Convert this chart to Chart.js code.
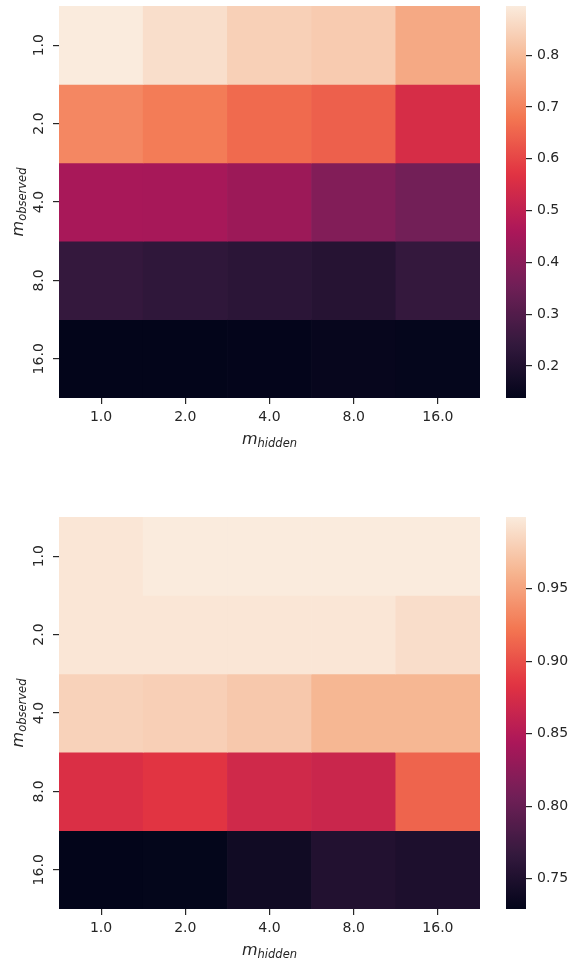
<!DOCTYPE html>
<html>
<head>
<meta charset="utf-8">
<script src="https://cdn.jsdelivr.net/npm/chart.js@4.4.0/dist/chart.umd.min.js"></script>
<style>
  html, body { margin: 0; padding: 0; background: #fff; }
  #wrap { position: relative; width: 577px; height: 959px; overflow: hidden; }
  .box { position: absolute; }
  canvas { display: block; }
</style>
</head>
<body>
<div id="wrap">
  <div class="box" style="left:0;top:0"><canvas id="heatTop" width="480" height="460"></canvas></div>
  <div class="box" style="left:490px;top:0"><canvas id="barTop" width="87" height="460"></canvas></div>
  <div class="box" style="left:0;top:511px"><canvas id="heatBottom" width="480" height="448"></canvas></div>
  <div class="box" style="left:490px;top:511px"><canvas id="barBottom" width="87" height="448"></canvas></div>
</div>
<script>
// axis categories
const mHidden = ['1.0', '2.0', '4.0', '8.0', '16.0'];
const mObserved = ['1.0', '2.0', '4.0', '8.0', '16.0'];

// upper panel, one array per m_observed row (columns follow mHidden)
const upperObs1  = [0.895, 0.870, 0.842, 0.832, 0.767];
const upperObs2  = [0.708, 0.689, 0.659, 0.643, 0.547];
const upperObs4  = [0.454, 0.452, 0.432, 0.387, 0.358];
const upperObs8  = [0.243, 0.233, 0.224, 0.214, 0.243];
const upperObs16 = [0.138, 0.139, 0.140, 0.146, 0.143];
const upperTicks = [0.2, 0.3, 0.4, 0.5, 0.6, 0.7, 0.8];

// lower panel
const lowerObs1  = [0.996, 0.9995, 0.9995, 0.9995, 0.9995];
const lowerObs2  = [0.996, 0.996, 0.996, 0.996, 0.990];
const lowerObs4  = [0.982, 0.980, 0.975, 0.963, 0.963];
const lowerObs8  = [0.878, 0.884, 0.870, 0.866, 0.912];
const lowerObs16 = [0.729, 0.730, 0.740, 0.753, 0.749];
const lowerTicks = [0.75, 0.80, 0.85, 0.90, 0.95];

// seaborn "rocket" anchors
const rocketStops = ['#03051a', '#35193e', '#701f57', '#ad1759', '#e13342', '#f37651', '#f6b48f', '#faebdd'];

const textColor = '#262626';
Chart.defaults.font.family = '"DejaVu Sans", sans-serif';
Chart.defaults.font.size = 14;
Chart.defaults.color = textColor;

function hexToRgb(h) {
    const n = parseInt(h.slice(1), 16);
    return [(n >> 16) & 255, (n >> 8) & 255, n & 255];
}

function rocket(t) {
    t = Math.min(1, Math.max(0, t));
    const n = rocketStops.length - 1;
    const i = Math.min(n - 1, Math.floor(t * n));
    const f = t * n - i;
    const a = hexToRgb(rocketStops[i]);
    const b = hexToRgb(rocketStops[i + 1]);
    const c = a.map((v, k) => Math.round(v + (b[k] - v) * f));
    return `rgb(${c[0]}, ${c[1]}, ${c[2]})`;
}

function drawMathLabel(ctx, base, sub, cx, cy, angle) {
    ctx.save();
    ctx.translate(cx, cy);
    ctx.rotate(angle);
    ctx.textAlign = 'left';
    ctx.textBaseline = 'alphabetic';
    ctx.font = 'italic 16px "DejaVu Sans"';
    const wb = ctx.measureText(base).width;
    ctx.font = 'italic 11.5px "DejaVu Sans"';
    const ws = ctx.measureText(sub).width;
    const x0 = -(wb + ws) / 2;
    ctx.font = 'italic 16px "DejaVu Sans"';
    ctx.fillText(base, x0, 0);
    ctx.font = 'italic 11.5px "DejaVu Sans"';
    ctx.fillText(sub, x0 + wb, 3);
    ctx.restore();
}

// rotated row labels and the two axis titles
const heatLabels = {
    id: 'heatLabels',
    afterDraw(chart) {
        const { ctx, chartArea, scales } = chart;
        ctx.save();
        ctx.fillStyle = textColor;
        ctx.font = '14px "DejaVu Sans"';
        ctx.textAlign = 'center';
        ctx.textBaseline = 'alphabetic';
        mObserved.forEach((lab, i) => {
            const y = scales.y.getPixelForValue(i + 0.5);
            ctx.save();
            ctx.translate(chartArea.left - 15.7, y);
            ctx.rotate(-Math.PI / 2);
            ctx.fillText(lab, 0, 0);
            ctx.restore();
        });
        const midX = (chartArea.left + chartArea.right) / 2;
        const midY = (chartArea.top + chartArea.bottom) / 2;
        drawMathLabel(ctx, 'm', 'hidden', midX, chartArea.bottom + 46, 0);
        drawMathLabel(ctx, 'm', 'observed', 23, midY, -Math.PI / 2);
        ctx.restore();
    }
};

const tickGrid = {
    drawOnChartArea: false,
    drawTicks: true,
    tickLength: 6,
    color: textColor,
    lineWidth: 1.2
};

function heatmap(canvasId, rows, canvasHeight) {
    const all = rows.flat();
    const vmin = Math.min(...all);
    const vmax = Math.max(...all);
    const datasets = rows.map((vals, r) => ({
        label: mObserved[r],
        data: vals.map(() => [r, r + 1]),
        backgroundColor: vals.map(v => rocket((v - vmin) / (vmax - vmin))),
        borderWidth: 0,
        grouped: false,
        barPercentage: 1,
        categoryPercentage: 1
    }));
    return new Chart(document.getElementById(canvasId), {
        type: 'bar',
        data: { labels: mHidden, datasets },
        options: {
            responsive: false,
            animation: false,
            layout: { padding: { top: 6, left: 0, right: 0, bottom: 0 } },
            plugins: { legend: { display: false }, tooltip: { enabled: false } },
            scales: {
                x: {
                    type: 'category',
                    offset: true,
                    grid: { ...tickGrid, offset: false },
                    border: { display: false },
                    ticks: { padding: 5, maxRotation: 0 },
                    afterFit: s => { s.height = canvasHeight - 6 - 392; }
                },
                y: {
                    type: 'linear',
                    min: 0,
                    max: mObserved.length,
                    reverse: true,
                    grid: tickGrid,
                    border: { display: false },
                    ticks: { display: false },
                    afterBuildTicks: s => { s.ticks = mObserved.map((l, i) => ({ value: i + 0.5 })); },
                    afterFit: s => { s.width = 59; }
                }
            }
        },
        plugins: [heatLabels]
    });
}

function colorbar(canvasId, rows, tickVals, digits, canvasHeight) {
    const all = rows.flat();
    const vmin = Math.min(...all);
    const vmax = Math.max(...all);
    return new Chart(document.getElementById(canvasId), {
        type: 'bar',
        data: {
            labels: [''],
            datasets: [{
                data: [[vmin, vmax]],
                borderWidth: 0,
                barPercentage: 1,
                categoryPercentage: 1,
                backgroundColor: ctx => {
                    const area = ctx.chart.chartArea;
                    if (!area) return rocket(0.5);
                    const g = ctx.chart.ctx.createLinearGradient(0, area.bottom, 0, area.top);
                    for (let i = 0; i <= 64; i++) g.addColorStop(i / 64, rocket(i / 64));
                    return g;
                }
            }]
        },
        options: {
            responsive: false,
            animation: false,
            layout: { padding: { top: 6, left: 16, right: 0, bottom: canvasHeight - 6 - 392 } },
            plugins: { legend: { display: false }, tooltip: { enabled: false } },
            scales: {
                x: { display: false },
                y: {
                    position: 'right',
                    min: vmin,
                    max: vmax,
                    grid: tickGrid,
                    border: { display: false },
                    ticks: { padding: 5, callback: v => v.toFixed(digits) },
                    afterBuildTicks: s => { s.ticks = tickVals.map(v => ({ value: v })); },
                    afterFit: s => {
                        s.width = 51;
                        s.paddingTop = 0;
                        s.paddingBottom = 0;
                    }
                }
            }
        }
    });
}

const upperRows = [upperObs1, upperObs2, upperObs4, upperObs8, upperObs16];
const lowerRows = [lowerObs1, lowerObs2, lowerObs4, lowerObs8, lowerObs16];

heatmap('heatTop', upperRows, 460);
colorbar('barTop', upperRows, upperTicks, 1, 460);
heatmap('heatBottom', lowerRows, 448);
colorbar('barBottom', lowerRows, lowerTicks, 2, 448);
</script>
</body>
</html>
